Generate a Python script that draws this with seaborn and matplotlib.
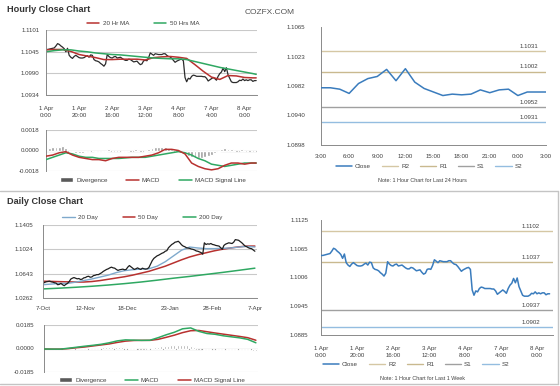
import matplotlib
matplotlib.use("Agg")
import matplotlib.pyplot as plt
import seaborn as sns
from matplotlib.lines import Line2D
from matplotlib.patches import Patch

# ---------------- data ----------------
# hourly closes, 1 Apr 0:00 .. 8 Apr (trading hours)
hour_idx = list(range(128))
hourly_close = [
    1.1051, 1.1051, 1.1052, 1.1053, 1.1054, 1.1055, 1.1060, 1.1066, 1.1064, 1.1060,
    1.1057, 1.1053, 1.1045, 1.1054, 1.1036, 1.1031, 1.1028, 1.1033, 1.1036, 1.1033,
    1.1030, 1.1029, 1.1029, 1.1030, 1.1033, 1.1035, 1.1031, 1.1037, 1.1036, 1.1025,
    1.1022, 1.1021, 1.1019, 1.1015, 1.1012, 1.1008, 1.1014, 1.1038, 1.1033, 1.1030,
    1.1029, 1.1032, 1.1033, 1.1029, 1.1030, 1.1031, 1.1028, 1.1025, 1.1023, 1.1023,
    1.1026, 1.1025, 1.1022, 1.1019, 1.1020, 1.1021, 1.1016, 1.1012, 1.1014, 1.1022,
    1.1023, 1.1022, 1.1030, 1.1042, 1.1039, 1.1036, 1.1040, 1.1039, 1.1038, 1.1038,
    1.1038, 1.1040, 1.1040, 1.1036, 1.1033, 1.1032, 1.1028, 1.1023, 1.1018, 1.1021,
    1.1023, 1.1025, 1.1026, 1.1022, 1.0979, 1.0968, 1.0977, 1.0975, 1.0982, 1.0985,
    1.0984, 1.0982, 1.0982, 1.0982, 1.0982, 1.0981, 1.0981, 1.0977, 1.0970, 1.0973,
    1.0976, 1.0979, 1.0976, 1.0972, 1.0982, 1.0989, 1.0993, 1.1003, 1.0994, 1.1004,
    1.0986, 1.0977, 1.0968, 1.0966, 1.0966, 1.0966, 1.0968, 1.0972, 1.0971, 1.0975,
    1.0971, 1.0973, 1.0971, 1.0973, 1.0973, 1.0969, 1.0971, 1.0971]
ma_hours = [0, 5, 10, 15, 20, 25, 30, 35, 40, 45, 50, 55, 60, 65, 70, 75, 80, 85, 90,
            95, 100, 105, 110, 115, 120, 125, 127]
ma20_hr = [1.1050, 1.1051, 1.1051, 1.1046, 1.1038, 1.1034, 1.1030, 1.1025, 1.1025,
           1.1026, 1.1026, 1.1026, 1.1024, 1.1030, 1.1032, 1.1033, 1.1031, 1.1028,
           1.1012, 1.0995, 1.0980, 1.0974, 1.0984, 1.0983, 1.0979, 1.0978, 1.0978]
ma50_hr = [1.1045, 1.1048, 1.1050, 1.1050, 1.1047, 1.1045, 1.1042, 1.1040, 1.1038,
           1.1037, 1.1035, 1.1033, 1.1031, 1.1029, 1.1028, 1.1027, 1.1027, 1.1025,
           1.1020, 1.1015, 1.1010, 1.1005, 1.1001, 1.0997, 1.0993, 1.0989, 1.0987]
macd_hours = [0, 4, 8, 12, 16, 20, 24, 28, 32, 36, 40, 44, 48, 52, 56, 60, 64, 68, 72,
              76, 80, 84, 88, 92, 96, 100, 104, 108, 112, 116, 120, 124, 127]
macd_hr = [-0.0005, -0.0004, -0.0002, -0.0001, -0.0004, -0.0006, -0.0007, -0.0008,
           -0.0008, -0.0009, -0.0007, -0.0006, -0.0006, -0.0006, -0.0006, -0.0005,
           -0.0004, -0.0002, 0.0001, 0.0001, 0.0000, -0.0003, -0.0011, -0.0014,
           -0.0016, -0.0017, -0.0016, -0.0013, -0.0011, -0.0011, -0.0012, -0.0011, -0.0011]
signal_hr = [-0.0008, -0.0006, -0.0004, -0.0002, -0.0003, -0.0005, -0.0006, -0.0006,
             -0.0007, -0.0007, -0.0007, -0.0007, -0.00065, -0.0006, -0.0006, -0.0006,
             -0.0005, -0.0004, -0.0003, -0.0002, -0.0001, -0.0002, -0.0004, -0.0007,
             -0.0009, -0.0012, -0.0013, -0.0014, -0.0013, -0.0012, -0.0011, -0.0011, -0.0011]
div_hours = list(range(0, 128, 2))
div_hr = [0.0002, 0.0002, 0.0003, 0.0003, 0.0003, 0.0004, 0.0002, 0.0000, -0.0001, -0.0002,
          -0.0002, -0.0002, -0.0001, -0.0001, 0.0000, -0.0001, -0.0001, -0.0001, -0.0001, 0.0001,
          0.0000, 0.0000, 0.0000, -0.0001, -0.0001, 0.0000, 0.0000, 0.0001, 0.0000, 0.0000,
          -0.0001, 0.0001, 0.0002, 0.0003, 0.0003, 0.0003, 0.0003, 0.0002, 0.0001, 0.0000,
          -0.0001, -0.0002, -0.0003, -0.0005, -0.0006, -0.0007, -0.0007, -0.0007, -0.0006, -0.0005,
          -0.0004, -0.0002, -0.0001, 0.0001, 0.0002, 0.0001, 0.0001, 0.0000, 0.0000, 0.0001,
          0.0000, 0.0000, 0.0000, 0.0000]
hr_ticks = [0, 20, 40, 60, 80, 100, 120]
hr_labels = ["1 Apr\n0:00", "1 Apr\n20:00", "2 Apr\n16:00", "3 Apr\n12:00",
             "4 Apr\n8:00", "7 Apr\n4:00", "8 Apr\n0:00"]

# last 24 hours
h24_idx = list(range(25))
h24_close = [1.0979, 1.0979, 1.0977, 1.0971, 1.0985, 1.0992, 1.0995, 1.1005, 1.0989,
             1.1006, 1.0987, 1.0978, 1.0973, 1.0968, 1.0970, 1.0969, 1.0970, 1.0976,
             1.0972, 1.0976, 1.0977, 1.0968, 1.0973, 1.0973, 1.0973]
h24_labels = ["3:00", "6:00", "9:00", "12:00", "15:00", "18:00", "21:00", "0:00", "3:00"]
lvl_names = ["R2", "R1", "S1", "S2"]
lvl_24h = [1.1031, 1.1002, 1.0952, 1.0931]
lvl_week = [1.1102, 1.1037, 1.0937, 1.0902]

# daily
day_idx = list(range(131))
daily_close = [
    1.0491, 1.0506, 1.0516, 1.0521, 1.0526, 1.0516, 1.0511, 1.0501, 1.0496, 1.0470,
    1.0475, 1.0491, 1.0470, 1.0455, 1.0475, 1.0491, 1.0516, 1.0557, 1.0572, 1.0582,
    1.0572, 1.0562, 1.0567, 1.0552, 1.0557, 1.0577, 1.0582, 1.0597, 1.0602, 1.0587,
    1.0592, 1.0613, 1.0618, 1.0628, 1.0628, 1.0643, 1.0658, 1.0679, 1.0694, 1.0709,
    1.0719, 1.0734, 1.0745, 1.0734, 1.0729, 1.0709, 1.0694, 1.0704, 1.0709, 1.0714,
    1.0704, 1.0709, 1.0745, 1.0770, 1.0750, 1.0729, 1.0709, 1.0719, 1.0734, 1.0719,
    1.0709, 1.0729, 1.0719, 1.0714, 1.0719, 1.0740, 1.0795, 1.0846, 1.0882, 1.0902,
    1.0922, 1.0933, 1.0948, 1.0963, 1.0973, 1.0994, 1.1004, 1.1049, 1.1075, 1.1100,
    1.1115, 1.1136, 1.1141, 1.1151, 1.1126, 1.1095, 1.1075, 1.1065, 1.1049, 1.1044,
    1.1039, 1.1029, 1.1024, 1.1014, 1.0999, 1.0994, 1.0983, 1.0973, 1.0948, 1.1126,
    1.1100, 1.1110, 1.1105, 1.1115, 1.1100, 1.1095, 1.1085, 1.1080, 1.1075, 1.1049,
    1.1024, 1.1085, 1.1105, 1.1115, 1.1126, 1.1121, 1.1115, 1.1136, 1.1176, 1.1171,
    1.1166, 1.1146, 1.1126, 1.1100, 1.1075, 1.1065, 1.1049, 1.1039, 1.1034, 1.1014,
    1.0994]
dma_idx = list(range(0, 131, 5))
ma20_day = [1.0470, 1.0480, 1.0490, 1.0490, 1.0510, 1.0535, 1.0560, 1.0590, 1.0620,
            1.0660, 1.0690, 1.0705, 1.0715, 1.0720, 1.0760, 1.0830, 1.0920, 1.1010,
            1.1060, 1.1045, 1.1035, 1.1035, 1.1040, 1.1045, 1.1060, 1.1070, 1.1060]
ma50_day = [1.0525, 1.0522, 1.0518, 1.0515, 1.0512, 1.0512, 1.0520, 1.0535, 1.0555,
            1.0575, 1.0595, 1.0620, 1.0650, 1.0680, 1.0720, 1.0760, 1.0810, 1.0860,
            1.0905, 1.0940, 1.0970, 1.1000, 1.1025, 1.1045, 1.1062, 1.1075, 1.1075]
ma200_idx = list(range(0, 131, 10))
ma200_day = [1.0404, 1.0416, 1.0430, 1.0446, 1.0465, 1.0487, 1.0512, 1.0541, 1.0572,
             1.0600, 1.0631, 1.0662, 1.0695, 1.0729]
macd_day = [-0.0004, -0.0005, -0.0005, 0.0002, 0.0010, 0.0018, 0.0025, 0.0033, 0.0045,
            0.0060, 0.0068, 0.0066, 0.0064, 0.0065, 0.0085, 0.0108, 0.0128, 0.0155,
            0.0162, 0.0135, 0.0118, 0.0112, 0.0100, 0.0092, 0.0084, 0.0072, 0.0045]
signal_day = [-0.0004, -0.0005, -0.0005, -0.0001, 0.0006, 0.0012, 0.0020, 0.0028, 0.0036,
              0.0048, 0.0058, 0.0063, 0.0064, 0.0064, 0.0072, 0.0088, 0.0105, 0.0125,
              0.0140, 0.0142, 0.0132, 0.0122, 0.0113, 0.0104, 0.0095, 0.0085, 0.0065]
div_day_idx = list(range(0, 131, 2))
div_day = [0.0, 0.0, 0.0, 0.0, 0.0, 0.0, 0.0003, 0.0005, 0.0007, 0.0006,
           0.0005, 0.0005, 0.0006, 0.0006, 0.0005, 0.0005, 0.0006, 0.0007, 0.0009, 0.0011,
           0.0012, 0.0014, 0.0014, 0.0013, 0.0010, 0.0008, 0.0005, 0.0003, 0.0001, 0.0,
           0.0, 0.0, 0.0001, 0.0005, 0.0010, 0.0015, 0.0018, 0.0020, 0.0022, 0.0024,
           0.0025, 0.0028, 0.0030, 0.0030, 0.0026, 0.0020, 0.0010, -0.0002, -0.0007, -0.0010,
           -0.0012, -0.0012, -0.0010, -0.0010, -0.0010, -0.0011, -0.0010, -0.0009, -0.0009, -0.0008,
           -0.0008, -0.0009, -0.0010, -0.0012, -0.0016, -0.0020]
day_ticks = [0, 26, 52, 78, 104, 130]
day_labels = ["7-Oct", "12-Nov", "18-Dec", "23-Jan", "28-Feb", "7-Apr"]

# ---------------- styling ----------------
sns.set_theme(style="white")
plt.rcParams["font.family"] = ["Liberation Sans", "DejaVu Sans"]

W, H = 560, 386
fig = plt.figure(figsize=(5.6, 3.86), dpi=100)

GRID = "#c9c9c9"
AXC = "#8a8a8a"
TXT = "#404040"
RED = "#b8312f"
GREEN = "#2fa862"
BLUE = "#3a7cbd"
LBLUE = "#7fa9cc"
DIVC = "#9a9a9a"
LVL_COLORS = ["#d5c7a4", "#c9b98f", "#a0a0a0", "#94bde0"]
TFS = 4.4
LFS = 4.5


def box(l, t, r, b):
    return [l / W, 1 - b / H, (r - l) / W, (b - t) / H]


def style(ax, grid=True, ypad=3.0, xpad=3.0):
    for s in ["top", "right"]:
        ax.spines[s].set_visible(False)
    for s in ["left", "bottom"]:
        ax.spines[s].set_color(AXC)
        ax.spines[s].set_linewidth(0.7)
    ax.tick_params(axis="both", direction="out", length=2.2, width=0.6, color=AXC,
                   labelsize=TFS, labelcolor=TXT)
    ax.tick_params(axis="y", pad=ypad)
    ax.tick_params(axis="x", pad=xpad)
    if grid:
        ax.yaxis.grid(True, color=GRID, lw=0.8)
    else:
        ax.yaxis.grid(False)
    ax.xaxis.grid(False)
    ax.set_axisbelow(True)
    ax.set_facecolor("white")
    ax.set_xlabel("")
    ax.set_ylabel("")


def put_legend(handles, labels, cx, cy, hl=2.0, cs=2.5):
    fig.legend(handles, labels, loc="center", bbox_to_anchor=(cx / W, 1 - cy / H),
               bbox_transform=fig.transFigure, ncol=len(handles), frameon=False,
               fontsize=LFS, handlelength=hl, columnspacing=cs, handletextpad=0.5,
               borderpad=0, borderaxespad=0, labelcolor=TXT)


def fmt(vals):
    return ["%.4f" % v for v in vals]

# ---------- top-left: hourly close ----------
ax1 = fig.add_axes(box(46, 30, 257, 95))
sns.lineplot(x=hour_idx, y=hourly_close, ax=ax1, color="#2b2b2b", lw=0.9, legend=False)
sns.lineplot(x=ma_hours, y=ma20_hr, ax=ax1, color=RED, lw=1.1, legend=False)
sns.lineplot(x=ma_hours, y=ma50_hr, ax=ax1, color=GREEN, lw=1.1, legend=False)
style(ax1, ypad=2.5, xpad=6.0)
ax1.set_xlim(0, 127.5)
y1 = [1.0934, 1.0990, 1.1045, 1.1101]
ax1.set_ylim(y1[0], y1[-1])
ax1.set_yticks(y1)
ax1.set_yticklabels(fmt(y1))
ax1.set_xticks(hr_ticks)
ax1.set_xticklabels(hr_labels, linespacing=1.5)
put_legend([Line2D([], [], color=RED, lw=1.1), Line2D([], [], color=GREEN, lw=1.1)],
           ["20 Hr MA", "50 Hrs MA"], 143, 23, cs=4.0)

# ---------- top-left: hourly MACD ----------
ax2 = fig.add_axes(box(46, 130, 257, 171))
ax2.bar(div_hours, div_hr, width=1.7, color=DIVC, zorder=2)
sns.lineplot(x=macd_hours, y=signal_hr, ax=ax2, color=GREEN, lw=1.1, legend=False, zorder=3)
sns.lineplot(x=macd_hours, y=macd_hr, ax=ax2, color=RED, lw=1.1, legend=False, zorder=4)
style(ax2, ypad=2.5)
ax2.spines["bottom"].set_visible(False)
ax2.axhline(0, color="#8f8f8f", lw=0.8, zorder=1)
ax2.set_xlim(0, 127.5)
y2 = [-0.0018, 0.0, 0.0018]
ax2.set_ylim(y2[0], y2[-1])
ax2.set_yticks(y2)
ax2.set_yticklabels(fmt(y2))
ax2.set_xticks([])
put_legend([Patch(facecolor="#5a5a5a"), Line2D([], [], color=RED, lw=1.1),
            Line2D([], [], color=GREEN, lw=1.1)],
           ["Divergence", "MACD", "MACD Signal Line"], 153, 180, cs=3.0)

# ---------- top-right: last 24 hours ----------
ax3 = fig.add_axes(box(321, 27, 546, 145))
for lv, c in zip(lvl_24h, LVL_COLORS):
    ax3.axhline(lv, color=c, lw=1.0, zorder=1)
    ax3.annotate("%.4f" % lv, xy=(0.925, lv), xycoords=("axes fraction", "data"),
                 xytext=(0, 1.5), textcoords="offset points", ha="center", va="bottom",
                 fontsize=TFS, color=TXT)
sns.lineplot(x=h24_idx, y=h24_close, ax=ax3, color=BLUE, lw=1.1, legend=False, zorder=3)
style(ax3, grid=False, ypad=9.0, xpad=4.0)
ax3.set_xlim(0, 24)
y3 = [1.0898, 1.0940, 1.0982, 1.1023, 1.1065]
ax3.set_ylim(y3[0], y3[-1])
ax3.set_yticks(y3)
ax3.set_yticklabels(fmt(y3))
ax3.set_xticks(list(range(0, 25, 3)))
ax3.set_xticklabels(h24_labels)
put_legend([Line2D([], [], color=BLUE, lw=1.1)] +
           [Line2D([], [], color=c, lw=1.0) for c in LVL_COLORS],
           ["Close"] + lvl_names, 429, 166, hl=2.6, cs=1.7)
fig.text(422 / W, 1 - 180 / H, "Note: 1 Hour Chart for Last 24 Hours", ha="center",
         va="center", fontsize=3.9, color=TXT)

# ---------- bottom-left: daily close ----------
ax4 = fig.add_axes(box(43, 225, 257, 298))
sns.lineplot(x=ma200_idx, y=ma200_day, ax=ax4, color=GREEN, lw=1.1, legend=False)
sns.lineplot(x=dma_idx, y=ma50_day, ax=ax4, color=RED, lw=1.1, legend=False)
sns.lineplot(x=dma_idx, y=ma20_day, ax=ax4, color=LBLUE, lw=1.0, legend=False)
sns.lineplot(x=day_idx, y=daily_close, ax=ax4, color="#1e1e1e", lw=0.9, legend=False)
style(ax4, ypad=5.0, xpad=3.5)
ax4.set_xlim(0, 131.3)
y4 = [1.0262, 1.0643, 1.1024, 1.1405]
ax4.set_ylim(y4[0], y4[-1])
ax4.set_yticks(y4)
ax4.set_yticklabels(fmt(y4))
ax4.set_xticks(day_ticks)
ax4.set_xticklabels(day_labels)
put_legend([Line2D([], [], color=LBLUE, lw=1.0), Line2D([], [], color=RED, lw=1.1),
            Line2D([], [], color=GREEN, lw=1.1)],
           ["20 Day", "50 Day", "200 Day"], 142, 217, cs=4.0)

# ---------- bottom-left: daily MACD ----------
ax5 = fig.add_axes(box(44, 325, 258, 372))
ax5.bar(div_day_idx, div_day, width=1.2, color=DIVC, zorder=2)
sns.lineplot(x=dma_idx, y=signal_day, ax=ax5, color=RED, lw=1.1, legend=False, zorder=3)
sns.lineplot(x=dma_idx, y=macd_day, ax=ax5, color=GREEN, lw=1.1, legend=False, zorder=4)
style(ax5, ypad=4.5)
ax5.spines["bottom"].set_visible(False)
ax5.axhline(0, color="#8f8f8f", lw=0.8, zorder=1)
ax5.set_xlim(0, 131.3)
y5 = [-0.0185, 0.0, 0.0185]
ax5.set_ylim(y5[0], y5[-1])
ax5.set_yticks(y5)
ax5.set_yticklabels(fmt(y5))
ax5.set_xticks([])
put_legend([Patch(facecolor="#5a5a5a"), Line2D([], [], color=GREEN, lw=1.1),
            Line2D([], [], color=RED, lw=1.1)],
           ["Divergence", "MACD", "MACD Signal Line"], 152, 380, cs=3.0)

# ---------- bottom-right: last week ----------
ax6 = fig.add_axes(box(321, 220, 553, 335))
for lv, c in zip(lvl_week, LVL_COLORS):
    ax6.axhline(lv, color=c, lw=1.0, zorder=1)
    ax6.annotate("%.4f" % lv, xy=(0.905, lv), xycoords=("axes fraction", "data"),
                 xytext=(0, 1.5), textcoords="offset points", ha="center", va="bottom",
                 fontsize=TFS, color=TXT)
sns.lineplot(x=hour_idx, y=hourly_close, ax=ax6, color=BLUE, lw=1.1, legend=False, zorder=3)
style(ax6, grid=False, ypad=7.0, xpad=5.5)
ax6.set_xlim(0, 128.9)
y6 = [1.0885, 1.0945, 1.1006, 1.1065, 1.1125]
ax6.set_ylim(y6[0], y6[-1])
ax6.set_yticks(y6)
ax6.set_yticklabels(fmt(y6))
ax6.set_xticks(hr_ticks)
ax6.set_xticklabels(hr_labels, linespacing=1.5)
put_legend([Line2D([], [], color=BLUE, lw=1.1)] +
           [Line2D([], [], color=c, lw=1.0) for c in LVL_COLORS],
           ["Close"] + lvl_names, 416, 364, hl=2.6, cs=1.7)
fig.text(422 / W, 1 - 378.5 / H, "Note: 1 Hour Chart for Last 1 Week", ha="center",
         va="center", fontsize=3.9, color=TXT)

# ---------- titles and frame ----------
fig.text(7 / W, 1 - 10 / H, "Hourly Close Chart", ha="left", va="center",
         fontsize=6.6, fontweight="bold", color="#333333")
fig.text(7 / W, 1 - 202 / H, "Daily Close Chart", ha="left", va="center",
         fontsize=6.6, fontweight="bold", color="#333333")
fig.text(245 / W, 1 - 12 / H, "COZFX.COM", ha="left", va="center",
         fontsize=6.0, color="#555555")
for yy in (191, 384):
    fig.add_artist(Line2D([0, 558 / W], [1 - yy / H] * 2, color="#c4c4c4", lw=1.0,
                          transform=fig.transFigure))
fig.add_artist(Line2D([558 / W] * 2, [1 - 191 / H, 1 - 384 / H], color="#c4c4c4", lw=1.0,
                      transform=fig.transFigure))

fig.savefig("out.png", dpi=100, facecolor="white")
